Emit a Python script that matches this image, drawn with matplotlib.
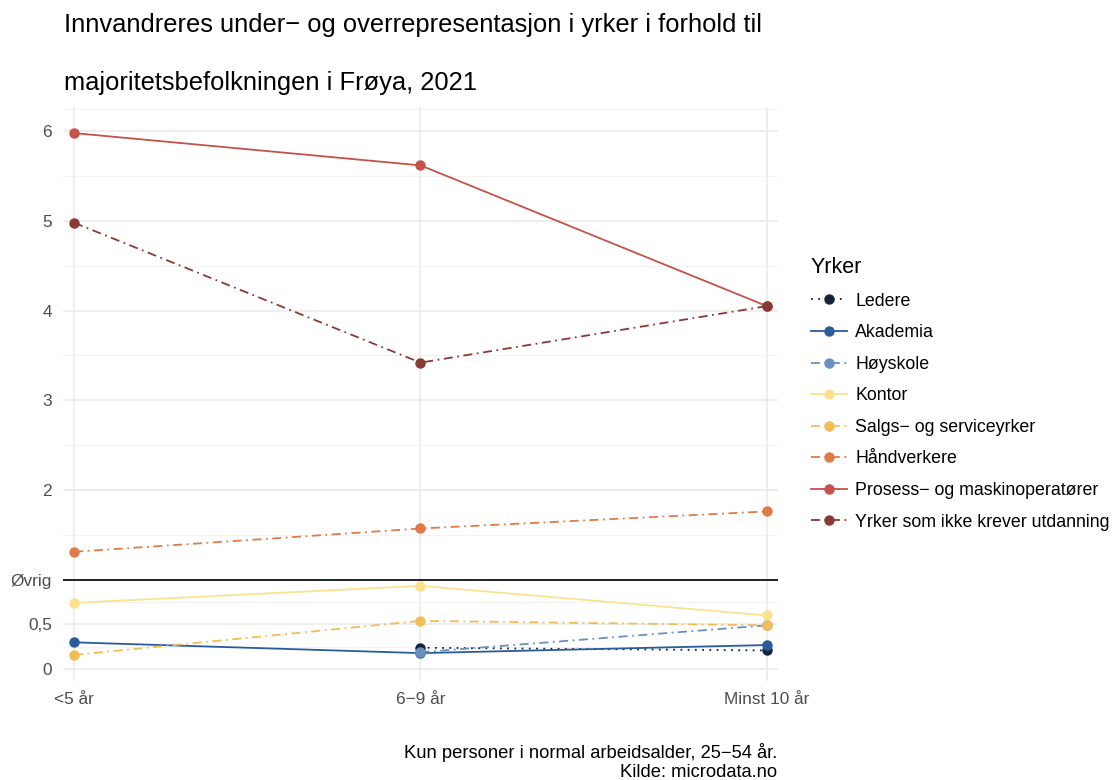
#!/usr/bin/env python
# coding: utf-8

# Innvandreres under- og overrepresentasjon i yrker, Frøya 2021

import matplotlib
matplotlib.use("Agg")
import matplotlib.pyplot as plt
import numpy as np

plt.rcParams['font.family'] = ['Liberation Sans', 'DejaVu Sans']

# ------------- data
botid = ['<5 år', '6\u22129 år', 'Minst 10 år']

yrker = ['Ledere', 'Akademia', 'Høyskole', 'Kontor',
         'Salgs\u2212 og serviceyrker', 'Håndverkere',
         'Prosess\u2212 og maskinoperatører',
         'Yrker som ikke krever utdanning']

ledere      = [np.nan, 0.24, 0.21]
akademia    = [0.30, 0.18, 0.27]
hoyskole    = [np.nan, 0.19, 0.49]
kontor      = [0.74, 0.93, 0.60]
salg        = [0.16, 0.54, 0.49]
handverkere = [1.31, 1.57, 1.76]
prosess     = [5.98, 5.62, 4.05]
ufaglaerte  = [4.98, 3.42, 4.05]

verdier = [ledere, akademia, hoyskole, kontor, salg, handverkere, prosess, ufaglaerte]

y_breaks = [0, 0.5, 1, 2, 3, 4, 5, 6]
y_labels = ['0', '0,5', 'Øvrig', '2', '3', '4', '5', '6']
y_minor = [0.25, 0.75, 1.5, 2.5, 3.5, 4.5, 5.5, 6.25]

# ------------- style
farger = ['#14243c', '#2b5c9a', '#6a90bd', '#fbe38e',
          '#f2bd55', '#e07b47', '#c5524a', '#8a3a34']
dotted = (0, (1, 3))
dashdot = (0, (5, 2.5, 1, 2.5))
linjer = [dotted, '-', dashdot, '-', dashdot, dashdot, '-', dashdot]

fig = plt.figure(figsize=(11.16, 7.8), dpi=100)
ax = fig.add_axes([63/1116, 1 - 681/780, (778-63)/1116, (681-107)/780])

x = np.arange(len(botid))

# gridlines
for yy in y_minor:
    ax.axhline(yy, color='#f3f3f3', linewidth=0.7, zorder=0)
for yy in y_breaks:
    ax.axhline(yy, color='#ebebeb', linewidth=1.2, zorder=0)
for xx in x:
    ax.axvline(xx, color='#ebebeb', linewidth=1.2, zorder=0)

ax.axhline(1, color='black', linewidth=1.2, zorder=1)

# lines first, then points (as ggplot layers)
for vals, col, ls in zip(verdier, farger, linjer):
    ax.plot(x, vals, color=col, linestyle=ls, linewidth=1.3, zorder=2)
handles = []
for navn, vals, col, ls in zip(yrker, verdier, farger, linjer):
    ax.plot(x, vals, linestyle='none', marker='o', markersize=6.5,
            color=col, zorder=3)
    h, = ax.plot([], [], color=col, linestyle=ls, linewidth=1.3,
                 marker='o', markersize=6.5, label=navn)
    handles.append(h)

ax.set_xlim(-0.032, 2.032)
ax.set_ylim(-0.131, 6.271)
ax.set_xticks(x)
ax.set_xticklabels(botid)
ax.set_yticks(y_breaks)
ax.set_yticklabels(y_labels)
ax.tick_params(axis='both', length=0, labelsize=12.4, labelcolor='#4d4d4d')
ax.tick_params(axis='x', pad=8)
ax.tick_params(axis='y', pad=8)
for sp in ax.spines.values():
    sp.set_visible(False)

leg = fig.legend(handles=handles, title='Yrker', loc='upper left',
                 bbox_to_anchor=(795/1116, 1 - 241/780), frameon=False,
                 fontsize=12.8, title_fontsize=15.5, handlelength=2.0,
                 handletextpad=0.5, labelspacing=0.82, alignment='left')

fig.text(64/1116, 1 - 32/780, 'Innvandreres under\u2212 og overrepresentasjon i yrker i forhold til',
         fontsize=18.4, va='baseline', ha='left')
fig.text(64/1116, 1 - 90/780, 'majoritetsbefolkningen i Frøya, 2021',
         fontsize=18.4, va='baseline', ha='left')

fig.text(777/1116, 1 - 758/780, 'Kun personer i normal arbeidsalder, 25\u221254 år.',
         fontsize=13.2, ha='right', va='baseline')
fig.text(777/1116, 1 - 777/780, 'Kilde: microdata.no',
         fontsize=13.2, ha='right', va='baseline')

fig.savefig('out.png', dpi=100)
